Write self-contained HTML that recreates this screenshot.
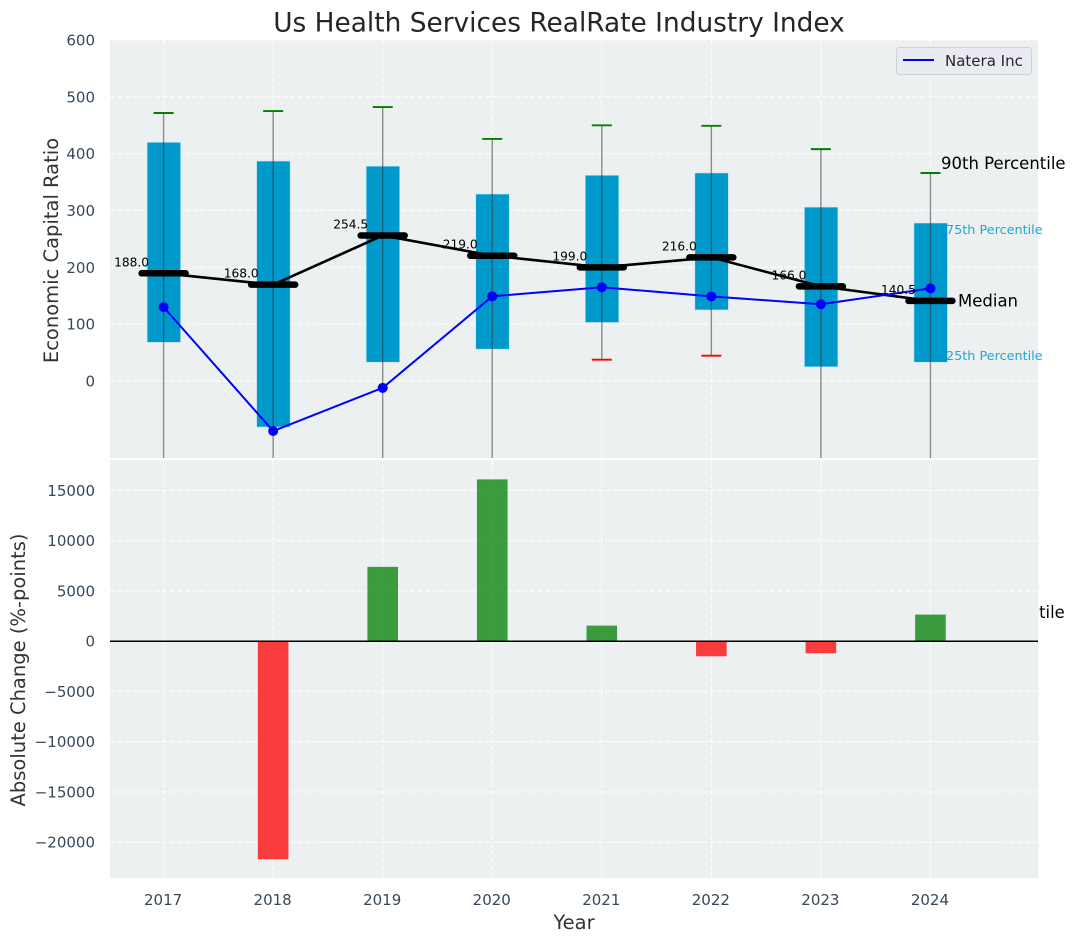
<!DOCTYPE html>
<html lang="en">
<head>
<meta charset="utf-8">
<title>Us Health Services RealRate Industry Index</title>
<style>
html,body{margin:0;padding:0;background:#fff;width:1076px;height:942px;overflow:hidden}
svg{display:block;font-family:"DejaVu Sans","Liberation Sans",sans-serif}
</style>
</head>
<body>
<svg id="chart" width="1076" height="942" viewBox="0 0 1076 942" xmlns="http://www.w3.org/2000/svg">
  <defs>
    <clipPath id="top-clip"><rect x="110" y="40" width="928" height="418"/></clipPath>
    <clipPath id="bottom-clip"><rect x="110" y="460" width="928" height="418"/></clipPath>
  </defs>
  <text x="559" y="31.5" text-anchor="middle" font-size="26.4" fill="#262626">Us Health Services RealRate Industry Index</text>
  <text x="941" y="618" font-size="16.4" fill="#000">90th Percentile</text>
  <rect x="110" y="40" width="928" height="418" fill="#ecf0f1"/>
  <rect x="110" y="460" width="928.5" height="418" fill="#ecf0f1"/>
  <g id="grid"></g>
  <g id="ticks" font-size="15" fill="#34495e"></g>
  <g id="top-marks" clip-path="url(#top-clip)"></g>
  <g id="bottom-marks" clip-path="url(#bottom-clip)"></g>
  <g id="labels" font-size="12.2" fill="#000"></g>
  <text transform="translate(58,250.5) rotate(-90)" text-anchor="middle" font-size="19.5" fill="#333">Economic Capital Ratio</text>
  <text transform="translate(25,670) rotate(-90)" text-anchor="middle" font-size="19.5" fill="#333">Absolute Change (%-points)</text>
  <text x="574" y="929" text-anchor="middle" font-size="19.5" fill="#333">Year</text>
  <text x="941" y="169" font-size="16.5" fill="#000">90th Percentile</text>
  <text x="946" y="234" font-size="12.8" fill="#0099cc" fill-opacity="0.85">75th Percentile</text>
  <text x="958" y="306.5" font-size="16.5" fill="#000">Median</text>
  <text x="946" y="360" font-size="12.8" fill="#0099cc" fill-opacity="0.85">25th Percentile</text>
  <g>
    <rect x="896.5" y="47.5" width="135" height="27" rx="3" fill="#eaeaf2" stroke="#cfcfd6" stroke-width="1"/>
    <line x1="903" y1="60" x2="934" y2="60" stroke="#0000ff" stroke-width="2"/>
    <text x="945" y="66" font-size="15" fill="#262626">Natera Inc</text>
  </g>
</svg>
<script>
const years = [2017, 2018, 2019, 2020, 2021, 2022, 2023, 2024];
const p90 = [471.6, 475, 482, 426, 450, 449, 408, 366];
const p75 = [420, 387, 378, 329, 362, 366, 306, 278];
const medians = [189.5, 169.5, 256, 220.5, 200, 217.5, 166.5, 141];
const medianLabels = ['188.0', '168.0', '254.5', '219.0', '199.0', '216.0', '166.0', '140.5'];
const p25 = [68, -81, 33, 56, 103, 125, 25, 33];
const p10 = [-200, -220, -190, -180, 37.5, 44.5, -170, -160];
const natera = [130, -88, -12, 149, 165, 149, 135, 163];
const changes = [null, -21700, 7400, 16100, 1550, -1500, -1200, 2650];
const ratioTicks = [0, 100, 200, 300, 400, 500, 600];
const changeTicks = [-20000, -15000, -10000, -5000, 0, 5000, 10000, 15000];

const NS = 'http://www.w3.org/2000/svg';
const xScale = v => 163.6 + (v - 2017) * 109.55;
const yTop = v => 381 - v * 0.5683;
const yBottom = v => 641.2 - v * 0.01005;

function make(parent, tag, attrs, text) {
  const el = document.createElementNS(NS, tag);
  for (const k in attrs) el.setAttribute(k, attrs[k]);
  if (text !== undefined) el.textContent = text;
  parent.appendChild(el);
  return el;
}
const grid = document.getElementById('grid');
const ticks = document.getElementById('ticks');
const topMarks = document.getElementById('top-marks');
const bottomMarks = document.getElementById('bottom-marks');
const labels = document.getElementById('labels');
const gridStyle = {stroke: '#ffffff', 'stroke-width': 1.2, 'stroke-dasharray': '5 2.5', 'stroke-opacity': 0.85};

ratioTicks.forEach(t => {
  const g = make(grid, 'line', Object.assign({x1: 110, x2: 1038, y1: yTop(t), y2: yTop(t)}, gridStyle));
  
  
  const l = make(ticks, 'text', {x: 95, y: yTop(t) + 5.5, 'text-anchor': 'end'}, String(t));
  
  
});
changeTicks.forEach(t => {
  const g = make(grid, 'line', Object.assign({x1: 110, x2: 1038, y1: yBottom(t), y2: yBottom(t)}, gridStyle));
  
  
  const l = make(ticks, 'text', {x: 95, y: yBottom(t) + 5.5, 'text-anchor': 'end'}, String(t).replace('-', '\u2212'));
  
  
});
years.forEach(y => {
  const x = xScale(y);
  const a = make(grid, 'line', Object.assign({x1: x, x2: x, y1: 40, y2: 458}, gridStyle));
  
  
  const b = make(grid, 'line', Object.assign({x1: x, x2: x, y1: 460, y2: 878}, gridStyle));
  
  
  const l = make(ticks, 'text', {x: x - 0.5, y: 905, 'text-anchor': 'middle'}, String(y));
  
  
});

/* boxes */
years.forEach((y, i) => {
  const x = xScale(y);
  const box = make(topMarks, 'rect', {x: x - 16.5, y: yTop(p75[i]), width: 33.5, height: yTop(p25[i]) - yTop(p75[i]), fill: '#0099cc', stroke: '#bfe3ef', 'stroke-width': 0.6});
  
  
});
/* whiskers */
years.forEach((y, i) => {
  const x = xScale(y);
  const w = make(topMarks, 'line', {x1: x, x2: x, y1: yTop(p90[i]), y2: yTop(p10[i]), stroke: '#333', 'stroke-opacity': 0.55, 'stroke-width': 1.4});
  
  
  const hi = make(topMarks, 'line', {x1: x - 10, x2: x + 10, y1: yTop(p90[i]), y2: yTop(p90[i]), stroke: '#008000', 'stroke-width': 1.9});
  
  
  const lo = make(topMarks, 'line', {x1: x - 10, x2: x + 10, y1: yTop(p10[i]), y2: yTop(p10[i]), stroke: '#ff0000', 'stroke-width': 1.9});
  
  
});
/* median connecting line and thick markers */
const medianLine = make(topMarks, 'polyline', {points: years.map((y, i) => xScale(y) + ',' + yTop(medians[i])).join(' '), fill: 'none', stroke: '#000', 'stroke-width': 2.6});


years.forEach((y, i) => {
  const x = xScale(y);
  const m = make(topMarks, 'line', {x1: x - 22, x2: x + 22, y1: yTop(medians[i]), y2: yTop(medians[i]), stroke: '#000', 'stroke-width': 6.5, 'stroke-linecap': 'round'});
  
  
  const l = make(labels, 'text', {x: x - 32, y: yTop(medians[i]) - 7, 'text-anchor': 'middle'}, medianLabels[i]);
  
  
});
/* company series */
const nateraLine = make(topMarks, 'polyline', {points: years.map((y, i) => xScale(y) + ',' + yTop(natera[i])).join(' '), fill: 'none', stroke: '#0000ff', 'stroke-width': 2});


years.forEach((y, i) => {
  const p = make(topMarks, 'circle', {cx: xScale(y), cy: yTop(natera[i]), r: 5, fill: '#0000ff'});
  
  
});
/* change bars */
years.forEach((y, i) => {
  if (changes[i] === null) return;
  const top = yBottom(Math.max(changes[i], 0));
  const bot = yBottom(Math.min(changes[i], 0));
  const b = make(bottomMarks, 'rect', {x: xScale(y) - 15.3, y: top, width: 30.6, height: bot - top, fill: changes[i] >= 0 ? '#008000' : '#ff0000', 'fill-opacity': 0.75});
  
  
});
const zero = make(bottomMarks, 'line', {x1: 110, x2: 1038, y1: yBottom(0), y2: yBottom(0), stroke: '#000', 'stroke-width': 1.5});


</script>
</body>
</html>
